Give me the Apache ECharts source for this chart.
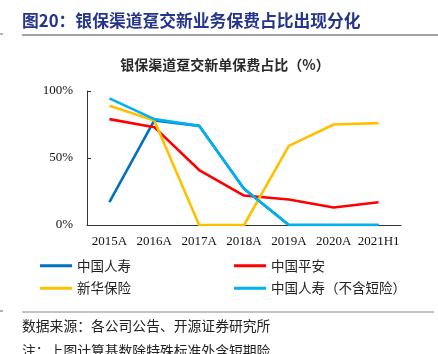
<!DOCTYPE html>
<html>
<head>
<meta charset="utf-8">
<script src="https://cdn.jsdelivr.net/npm/echarts@6/dist/echarts.min.js"></script>
<style>
  html, body { margin: 0; padding: 0; background: #fff; }
  #chart { width: 438px; height: 354px; }
</style>
</head>
<body>
<div id="chart"></div>
<script>
// 数据
var categories = ["2015A", "2016A", "2017A", "2018A", "2019A", "2020A", "2021H1"];
var chinaLife = [17, 78, 74, 27, 0, 0, 0];
var pingAn = [79, 73, 41, 22, 19, 13, 17];
var xinhua = [89, 78, 0, 0, 59, 75, 76];
var chinaLifeExShort = [94.5, 79, 74, 27, 0, 0, 0];
var yTicks = [0, 50, 100];

var seriesNames = ["中国人寿", "中国平安", "新华保险", "中国人寿（不含短险）"];
var seriesColors = ["#0070C0", "#FF0000", "#FFC000", "#00B0F0"];
var seriesData = [chinaLife, pingAn, xinhua, chinaLifeExShort];

var serif = "'Liberation Serif', 'Times New Roman', serif";
var cjk = "'Noto Sans CJK SC', sans-serif";

var chart = echarts.init(document.getElementById("chart"));

var option = {
  animation: false,
  backgroundColor: "#fff",
  title: {
    text: "银保渠道趸交新单保费占比（%）",
    left: 220,
    top: 53,
    textAlign: "center",
    textStyle: { fontFamily: cjk, fontSize: 14, fontWeight: "bold", color: "#2a2a2a" }
  },
  grid: { left: 87, right: 37, top: 91, bottom: 129 },
  legend: [
    {
      data: [seriesNames[0], seriesNames[2]],
      orient: "vertical",
      left: 35, top: 254,
      itemWidth: 32, itemHeight: 3, itemGap: 9,
      icon: "rect",
      textStyle: { fontFamily: cjk, fontSize: 13.5, color: "#222" }
    },
    {
      data: [seriesNames[1], seriesNames[3]],
      orient: "vertical",
      left: 229, top: 254,
      itemWidth: 32, itemHeight: 3, itemGap: 9,
      icon: "rect",
      textStyle: { fontFamily: cjk, fontSize: 13.5, color: "#222" }
    }
  ],
  xAxis: {
    type: "category",
    data: categories,
    boundaryGap: true,
    axisLine: { lineStyle: { color: "#333", width: 1 } },
    axisTick: { inside: true, length: 4, lineStyle: { color: "#333" } },
    axisLabel: { fontFamily: serif, fontSize: 13, color: "#111", margin: 10, interval: 0 }
  },
  yAxis: {
    type: "value",
    min: yTicks[0],
    max: yTicks[yTicks.length - 1],
    interval: yTicks[1] - yTicks[0],
    splitLine: { show: false },
    axisLine: { show: true, lineStyle: { color: "#333", width: 1 } },
    axisTick: { show: true, inside: true, length: 4, lineStyle: { color: "#333" } },
    axisLabel: { fontFamily: serif, fontSize: 13, color: "#111", margin: 14, formatter: "{value}%" }
  },
  series: seriesData.map(function (d, i) {
    return {
      name: seriesNames[i],
      type: "line",
      data: d,
      showSymbol: false,
      symbol: "none",
      color: seriesColors[i],
      lineStyle: { width: 2.6, color: seriesColors[i] }
    };
  }),
  graphic: [
    {
      type: "text", left: 22, top: 12,
      style: { text: "图20：银保渠道趸交新业务保费占比出现分化", font: "bold 16.8px " + cjk, fill: "#25358C" }
    },
    { type: "line", shape: { x1: 22, y1: 35, x2: 438, y2: 35 }, style: { stroke: "#444", lineWidth: 1.2 } },
    { type: "line", shape: { x1: 0, y1: 34, x2: 3, y2: 34 }, style: { stroke: "#666", lineWidth: 1 } },
    { type: "line", shape: { x1: 22, y1: 312, x2: 434, y2: 312 }, style: { stroke: "#888", lineWidth: 1 } },
    { type: "line", shape: { x1: 0, y1: 311, x2: 3, y2: 311 }, style: { stroke: "#666", lineWidth: 1 } },
    {
      type: "text", left: 22, top: 319,
      style: { text: "数据来源：各公司公告、开源证券研究所", font: "13.8px " + cjk, fill: "#222" }
    },
    {
      type: "text", left: 22, top: 344,
      style: { text: "注：上图计算基数除特殊标准外含短期险", font: "13.8px " + cjk, fill: "#222" }
    }
  ]
};

chart.setOption(option);
</script>
</body>
</html>
